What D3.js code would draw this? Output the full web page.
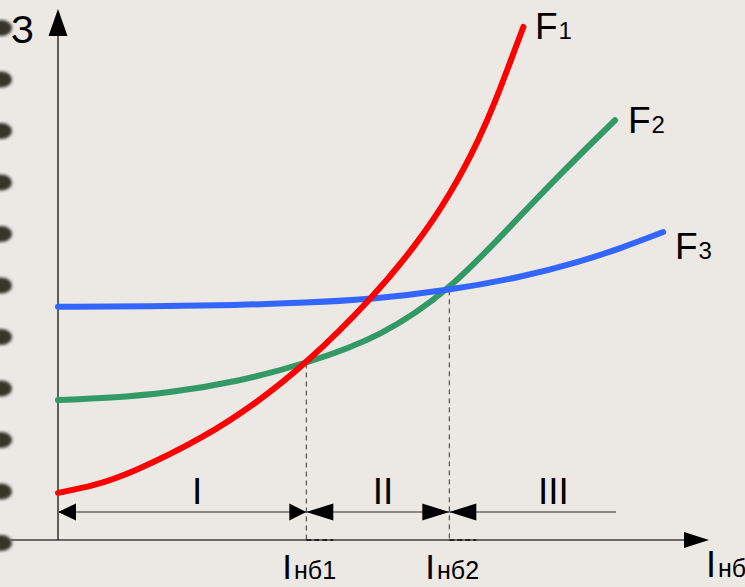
<!DOCTYPE html>
<html>
<head>
<meta charset="utf-8">
<script src="https://cdn.jsdelivr.net/npm/d3@7"></script>
<style>
  html, body { margin: 0; padding: 0; background: #ece8e4; }
  svg { display: block; }
  text { font-family: "Liberation Sans", Arial, sans-serif; fill: #000; }
</style>
</head>
<body>
<svg id="chart" width="745" height="587"></svg>
<script>
// ---- data (abstract units: x = I_нб, y = З) ----
const f1X = [0, 5.5, 11.3, 22.3, 30.5, 38.2, 48.1, 54.9, 60.3, 64.9, 67.5, 70.0, 71.6];
const f1Y = [8.9, 10.2, 12.6, 19.2, 25.8, 33.3, 45.3, 55.3, 65.0, 75.8, 83.4, 91.6, 96.8];
const f2X = [0, 8, 16.8, 27.8, 38.2, 49.8, 60.2, 69.0, 77.2, 85.7];
const f2Y = [26.4, 26.8, 27.7, 29.9, 33.3, 38.4, 47.1, 58.4, 69.0, 79.2];
const f3X = [0, 14, 27.8, 38, 48.1, 60.2, 71.7, 80.0, 86.5, 93.1];
const f3Y = [44.0, 44.1, 44.3, 44.8, 45.4, 47.1, 49.7, 52.4, 55.0, 58.1];
const seriesNames = ["F", "F", "F"];
const seriesSubs = ["1", "2", "3"];
const seriesColors = ["#ff0000", "#339966", "#3366ff"];
const boundaryX = [38.2, 60.2];           // I_нб1, I_нб2
const boundaryY = [33.3, 47.1];           // cost at the crossings
const boundarySubs = ["нб1", "нб2"];
const regionLabels = ["I", "II", "III"];
const regionX = [21.4, 50, 76.2];
const axisYLabel = "З";
const axisXMain = "I";
const axisXSub = "нб";

// ---- scales ----
const x = d3.scaleLinear().domain([0, 100]).range([58, 708]);
const y = d3.scaleLinear().domain([0, 100]).range([540, 10]);

const svg = d3.select("#chart");

// decorative binding blobs on the left edge
const defs = svg.append("defs");
defs.append("filter").attr("id", "blur").append("feGaussianBlur").attr("stdDeviation", 1.8);
const blobs = d3.range(11).map(i => 28 + i * 51.5);
svg.append("g").selectAll("ellipse").data(blobs).join("ellipse")
  .attr("cx", 1).attr("cy", d => d).attr("rx", 11).attr("ry", 8)
  .attr("fill", "#34342a").attr("filter", "url(#blur)");

// axes
const xAxisY = y(0);
svg.append("line").attr("x1", 10).attr("x2", 684).attr("y1", xAxisY).attr("y2", xAxisY)
  .attr("stroke", "#6a6a6a").attr("stroke-width", 2);
svg.append("path")
  .attr("d", `M${684},${xAxisY - 8}L${709},${xAxisY}L${684},${xAxisY + 8}Z`).attr("fill", "#000");
svg.append("line").attr("x1", x(0)).attr("x2", x(0)).attr("y1", 34).attr("y2", xAxisY)
  .attr("stroke", "#000").attr("stroke-width", 1.2);
svg.append("path")
  .attr("d", `M${x(0) - 9.5},36L${x(0)},9L${x(0) + 9.5},36Z`).attr("fill", "#000");

// region arrow line
const arrowY = 512;
svg.append("line").attr("x1", x(0)).attr("x2", 616).attr("y1", arrowY).attr("y2", arrowY)
  .attr("stroke", "#6a6a6a").attr("stroke-width", 1.6);

function arrowHead(tipX, dir, len) {
  const bx = tipX - dir * len;
  svg.append("path")
    .attr("d", `M${bx},${arrowY - 8.5}L${tipX},${arrowY}L${bx},${arrowY + 8.5}Z`)
    .attr("fill", "#000");
}
arrowHead(x(0), -1, 18);
arrowHead(x(boundaryX[0]), 1, 17);
arrowHead(x(boundaryX[0]), -1, 27);
arrowHead(x(boundaryX[1]), 1, 27);
arrowHead(x(boundaryX[1]), -1, 27);

// dashed boundary lines
boundaryX.forEach((bx, i) => {
  svg.append("line").attr("x1", x(bx)).attr("x2", x(bx))
    .attr("y1", y(boundaryY[i])).attr("y2", xAxisY)
    .attr("stroke", "#333").attr("stroke-width", 1).attr("stroke-dasharray", "5,4");
  svg.append("line").attr("x1", x(bx)).attr("x2", x(bx) + 27)
    .attr("y1", xAxisY).attr("y2", xAxisY)
    .attr("stroke", "#222").attr("stroke-width", 2).attr("stroke-dasharray", "5,3");
});

// curves
const line = d3.line().x(d => x(d[0])).y(d => y(d[1])).curve(d3.curveBasis);
const series = [
  d3.zip(f1X, f1Y),
  d3.zip(f2X, f2Y),
  d3.zip(f3X, f3Y)
];
[1, 2, 0].forEach(i => {
  svg.append("path").datum(series[i]).attr("d", line)
    .attr("fill", "none").attr("stroke", seriesColors[i])
    .attr("stroke-width", 6).attr("stroke-linecap", "round");
});

// series labels
const labelPos = [[535, 39], [628, 133], [675, 259]];
seriesNames.forEach((n, i) => {
  const t = svg.append("text").attr("x", labelPos[i][0]).attr("y", labelPos[i][1])
    .attr("font-size", 37);
  t.append("tspan").text(n);
  t.append("tspan").attr("font-size", 24).attr("dx", 1).text(seriesSubs[i]);
});

// axis labels
svg.append("text").attr("x", 11).attr("y", 43).attr("font-size", 38).text(axisYLabel);
const xl = svg.append("text").attr("x", 706).attr("y", 577).attr("font-size", 36);
xl.append("tspan").text(axisXMain);
xl.append("tspan").attr("font-size", 25).attr("dx", 2).text(axisXSub);

// boundary labels
boundaryX.forEach((bx, i) => {
  const t = svg.append("text").attr("x", x(bx) - 24).attr("y", 579).attr("font-size", 35);
  t.append("tspan").text("I");
  t.append("tspan").attr("font-size", 25).attr("dx", 2).text(boundarySubs[i]);
});

// region labels
regionLabels.forEach((r, i) => {
  svg.append("text").attr("x", x(regionX[i])).attr("y", 504)
    .attr("text-anchor", "middle").attr("font-size", 37).text(r);
});
</script>
</body>
</html>
